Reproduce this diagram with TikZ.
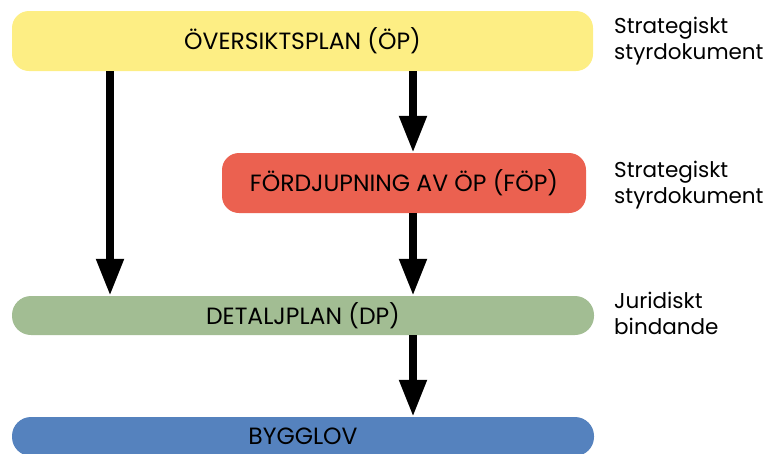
\documentclass[tikz,border=0pt]{standalone}
\usepackage{fontspec}
\setmainfont{Poppins}
\usetikzlibrary{arrows.meta}

\definecolor{gulOP}{HTML}{FDEE84}
\definecolor{rodFOP}{HTML}{EB6150}
\definecolor{gronDP}{HTML}{A2BD93}
\definecolor{blaBL}{HTML}{5582BE}
\newcommand{\textstorlek}{\fontsize{21.5}{26}\selectfont}
\newcommand{\rutstorlek}{\fontsize{23.5}{28}\selectfont}
\tikzset{plan/.style={rectangle, rounded corners=17pt, inner sep=0pt, font=\rutstorlek},
  pil/.style={line width=8pt, -{Triangle[length=37pt,width=26pt]}},
  anm/.style={anchor=west, align=left, inner sep=0pt, font=\textstorlek}}

\begin{document}
\begin{tikzpicture}[x=1pt,y=-1pt]
\useasboundingbox (0,0) rectangle (768,453);

\node[plan, fill=gulOP, minimum width=581pt, minimum height=60pt] (oep) at (302.5,41) {ÖVERSIKTSPLAN (ÖP)};
\node[plan, fill=rodFOP, minimum width=364pt, minimum height=60pt] (foep) at (404,183) {FÖRDJUPNING AV ÖP (FÖP)};
\node[plan, fill=gronDP, rounded corners=19pt, minimum width=582pt, minimum height=39pt] (dp) at (303,315.5) {DETALJPLAN (DP)};
\node[plan, fill=blaBL, rounded corners=19pt, minimum width=582pt, minimum height=39pt] (bygglov) at (303,436.5) {BYGGLOV};

\coordinate (vKol) at (110,0);
\coordinate (hKol) at (413,0);
\draw[pil] (oep.south -| vKol) -- (dp.north -| vKol);
\draw[pil] (oep.south -| hKol) -- (foep.north -| hKol);
\draw[pil] (foep.south -| hKol) -- (dp.north -| hKol);
\draw[pil] (dp.south -| hKol) -- (bygglov.north -| hKol);

\node[anm] (anmOP) at (614,41) {Strategiskt\\styrdokument};
\node[anm] (anmFOP) at (614,185) {Strategiskt\\styrdokument};
\node[anm] (anmDP) at (614,313) {Juridiskt\\bindande};
\end{tikzpicture}
\end{document}
